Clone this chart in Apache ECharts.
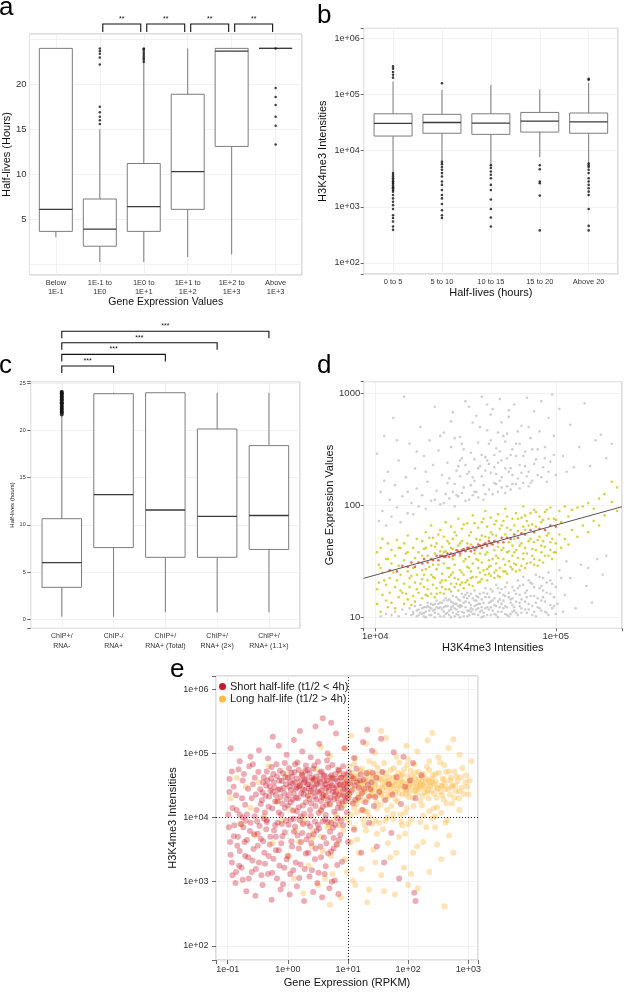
<!DOCTYPE html>
<html><head><meta charset="utf-8">
<script src="https://cdn.jsdelivr.net/npm/echarts@6/dist/echarts.min.js"></script>
<style>html,body{margin:0;padding:0;background:#fff}#c{width:625px;height:992px}</style>
</head><body><div id="c"></div>
<script>
// ---------------- DATA ----------------
// Panel a
const catsA = ['Below\n1E-1','1E-1 to\n1E0','1E0 to\n1E+1','1E+1 to\n1E+2','1E+2 to\n1E+3','Above\n1E+3'];
// [min, Q1, median, Q3, max]
const boxA = [[3.0,3.65,6.1,24,24],[0.25,2.0,3.9,7.25,15.0],[0.25,3.65,6.4,11.2,22.4],[0.8,6.1,10.3,18.9,24],[1.1,13.1,23.7,24,24],[24,24,24,24,24]];
const outA = [[1,15.6],[1,16.0],[1,16.4],[1,16.9],[1,17.5],[1,22.2],[1,23.0],[1,23.4],[1,23.7],[1,24.0],
  [2,22.5],[2,22.7],[2,22.9],[2,23.1],[2,23.3],[2,23.5],[2,23.7],[2,23.9],[2,24.0],
  [5,24.0],[5,19.6],[5,18.6],[5,17.7],[5,16.4],[5,15.4],[5,13.3]];
const sigA = [[1,2],[2,3],[3,4],[4,5]];
const sigALabel = '**';
const ticksA = [5,10,15,20];

// Panel b
const catsB = ['0 to 5','5 to 10','10 to 15','15 to 20','Above 20'];
const boxB = [[4200,18200,30600,45300,170000],[6400,20400,31700,44300,120000],[5200,19500,30900,45300,148000],[7700,21400,33600,47900,123000],[5800,20400,32400,46800,160000]];
// outliers: [category, log10(intensity)]
const outBLog = [[0,5.50],[0,5.46],[0,5.40],[0,5.35],[0,5.30],[0,3.60],[0,3.57],[0,3.54],[0,3.51],[0,3.48],[0,3.45],[0,3.43],[0,3.41],[0,3.38],[0,3.35],[0,3.33],[0,3.30],[0,3.27],[0,3.21],[0,3.15],[0,3.09],[0,3.03],[0,2.96],[0,2.85],[0,2.80],[0,2.74],[0,2.65],[0,2.59],
  [1,5.20],[1,3.80],[1,3.76],[1,3.71],[1,3.66],[1,3.60],[1,3.54],[1,3.45],[1,3.39],[1,3.30],[1,3.21],[1,3.15],[1,3.05],[1,2.94],[1,2.85],[1,2.80],
  [2,3.74],[2,3.69],[2,3.63],[2,3.57],[2,3.51],[2,3.39],[2,3.30],[2,3.13],[2,2.96],[2,2.81],[2,2.65],
  [3,3.74],[3,3.67],[3,3.45],[3,3.42],[3,3.20],[3,2.58],
  [4,5.28],[4,5.26],[4,3.77],[4,3.74],[4,3.71],[4,3.66],[4,3.60],[4,3.51],[4,3.45],[4,3.39],[4,3.33],[4,3.27],[4,3.21],[4,2.96],[4,2.66],[4,2.58]];

// Panel c
const catsC = ['ChIP+/\nRNA-','ChIP-/\nRNA+','ChIP+/\nRNA+ (Total)','ChIP+/\nRNA+ (2×)','ChIP+/\nRNA+ (1.1×)'];
const boxC = [[0.28,3.39,6.0,10.66,21.6],[0.28,7.6,13.2,23.9,24],[0.74,6.57,11.58,24,24],[0.74,6.57,10.9,20.16,24],[0.74,7.4,11.0,18.4,24]];
const outC = [[0,21.7],[0,21.9],[0,22.0],[0,22.2],[0,22.3],[0,22.5],[0,22.6],[0,22.8],[0,22.9],[0,23.0],[0,23.2],[0,23.3],[0,23.5],[0,23.6],[0,23.8],[0,23.9],[0,24.0],[0,24.1]];
const sigC = [[0,1],[0,2],[0,3],[0,4]];
const sigCLabel = '***';

// Panel d  (log10 x = H3K4me3, log10 y = expression)
const dLine = [[8630,22.3],[232800,97.2]];
const dRedLog = [[4.08,1.42],[4.12,1.41],[4.15,1.46],[4.18,1.45],[4.20,1.49],[4.22,1.45],[4.24,1.49],[4.26,1.48],[4.27,1.52],[4.29,1.49],[4.31,1.52],[4.32,1.51],[4.34,1.55],[4.35,1.51],[4.36,1.55],[4.37,1.55],[4.38,1.54],[4.39,1.54],[4.40,1.57],[4.41,1.54],[4.42,1.57],[4.43,1.55],[4.44,1.56],[4.45,1.60],[4.46,1.59],[4.47,1.57],[4.48,1.60],[4.49,1.61],[4.50,1.59],[4.51,1.62],[4.52,1.62],[4.53,1.59],[4.54,1.63],[4.55,1.60],[4.56,1.62],[4.57,1.65],[4.58,1.64],[4.59,1.62],[4.60,1.65],[4.61,1.66],[4.62,1.64],[4.63,1.68],[4.64,1.66],[4.65,1.65],[4.66,1.68],[4.68,1.67],[4.70,1.71],[4.71,1.67],[4.73,1.71],[4.75,1.70],[4.77,1.74],[4.79,1.71],[4.81,1.75],[4.83,1.74],[4.86,1.78],[4.88,1.76],[4.91,1.79],[4.94,1.78],[4.97,1.82],[5.00,1.81]];
const dYellowLog = [[4.01,1.12],[4.01,1.25],[4.01,1.58],[4.02,1.31],[4.02,1.47],[4.03,1.05],[4.03,1.62],[4.04,1.20],[4.04,1.40],[4.04,1.70],[4.06,1.15],[4.06,1.29],[4.06,1.52],[4.07,1.09],[4.07,1.66],[4.08,1.35],[4.08,1.22],[4.09,1.48],[4.09,1.60],[4.09,1.13],
 [4.11,1.27],[4.11,1.55],[4.11,1.08],[4.12,1.33],[4.12,1.69],[4.13,1.18],[4.13,1.46],[4.14,1.24],[4.14,1.62],[4.14,1.38],[4.16,1.12],[4.16,1.51],[4.16,1.30],[4.17,1.57],[4.17,1.21],[4.18,1.41],[4.18,1.73],[4.18,1.16],[4.19,1.27],[4.19,1.35],
 [4.21,1.19],[4.21,1.62],[4.21,1.44],[4.22,1.31],[4.22,1.53],[4.22,1.14],[4.23,1.25],[4.23,1.70],[4.23,1.38],[4.24,1.58],[4.24,1.22],[4.26,1.34],[4.26,1.68],[4.26,1.17],[4.26,1.42],[4.27,1.27],[4.27,1.61],[4.28,1.43],[4.28,1.20],[4.28,1.76],[4.29,1.33],[4.29,1.55],[4.29,1.25],
 [4.31,1.38],[4.31,1.64],[4.31,1.21],[4.31,1.82],[4.32,1.29],[4.32,1.47],[4.32,1.71],[4.33,1.18],[4.33,1.57],[4.33,1.35],[4.34,1.26],[4.34,1.43],[4.34,1.66],[4.36,1.31],[4.36,1.59],[4.36,1.78],[4.36,1.22],[4.37,1.39],[4.37,1.63],[4.37,1.27],[4.38,1.21],[4.38,1.48],[4.38,1.72],[4.39,1.33],[4.39,1.59],[4.39,1.85],
 [4.41,1.25],[4.41,1.44],[4.41,1.66],[4.41,1.36],[4.42,1.30],[4.42,1.62],[4.42,1.81],[4.42,1.23],[4.43,1.40],[4.43,1.52],[4.43,1.70],[4.44,1.27],[4.44,1.35],[4.44,1.76],[4.46,1.34],[4.46,1.64],[4.46,1.88],[4.46,1.24],[4.47,1.42],[4.47,1.55],[4.47,1.29],[4.48,1.31],[4.48,1.68],[4.48,1.79],[4.49,1.38],[4.49,1.50],[4.49,1.26],
 [4.51,1.33],[4.51,1.66],[4.51,1.84],[4.51,1.45],[4.52,1.29],[4.52,1.54],[4.52,1.73],[4.53,1.41],[4.53,1.65],[4.53,1.35],[4.54,1.48],[4.54,1.91],[4.54,1.28],[4.56,1.36],[4.56,1.70],[4.56,1.52],[4.57,1.31],[4.57,1.80],[4.57,1.44],[4.58,1.40],[4.58,1.69],[4.58,1.57],[4.59,1.34],[4.59,1.85],[4.59,1.49],
 [4.61,1.38],[4.61,1.72],[4.61,1.56],[4.61,1.95],[4.62,1.43],[4.62,1.81],[4.62,1.33],[4.63,1.51],[4.63,1.71],[4.63,1.39],[4.64,1.46],[4.64,1.76],[4.64,1.89],[4.66,1.40],[4.66,1.60],[4.66,1.83],[4.66,1.35],[4.67,1.48],[4.67,1.73],[4.67,1.55],[4.68,1.37],[4.68,1.92],[4.68,1.63],[4.69,1.44],[4.69,1.79],
 [4.71,1.41],[4.71,1.62],[4.71,1.86],[4.71,1.52],[4.72,1.47],[4.72,1.74],[4.72,1.97],[4.73,1.39],[4.73,1.58],[4.73,1.80],[4.74,1.50],[4.74,1.67],[4.76,1.43],[4.76,1.64],[4.76,1.88],[4.76,1.55],[4.77,1.48],[4.77,1.82],[4.77,1.70],[4.78,1.41],[4.78,1.60],[4.78,1.93],[4.79,1.53],[4.79,1.77],
 [4.81,1.46],[4.81,1.66],[4.81,1.89],[4.82,1.52],[4.82,1.81],[4.82,1.99],[4.83,1.44],[4.83,1.62],[4.83,1.78],[4.84,1.57],[4.84,1.86],[4.86,1.49],[4.86,1.70],[4.86,1.93],[4.87,1.55],[4.87,1.83],[4.88,1.47],[4.88,1.67],[4.88,1.96],[4.89,1.60],[4.89,1.81],
 [4.91,1.51],[4.91,1.72],[4.91,1.90],[4.92,1.58],[4.92,1.85],[4.93,1.49],[4.93,1.68],[4.94,1.63],[4.94,1.94],[4.96,1.55],[4.96,1.75],[4.96,1.88],[4.97,1.60],[4.97,1.98],[4.98,1.52],[4.98,1.70],
 [5.00,1.66],[5.00,1.87],[5.00,1.58],[5.02,1.74],[5.02,1.95],[5.03,1.62],[5.03,1.85],[5.05,1.70],[5.05,1.99],[5.07,1.65],[5.07,1.90],[5.09,1.78],[5.09,1.96],[5.12,1.72],[5.12,1.98],[5.15,1.82],[5.15,1.99],[5.18,1.76],[5.18,2.02],[5.21,1.86],[5.21,1.97],[5.24,1.82],[5.24,2.06],[5.27,2.10],[5.27,1.91],[5.31,2.03],[5.31,2.21],[5.34,1.95],[5.34,2.16]];
const dYellowLog2 = [[4.25,1.30],[4.26,1.55],[4.27,1.38],[4.28,1.62],[4.29,1.19],[4.30,1.45],[4.30,1.71],[4.32,1.36],[4.33,1.63],[4.34,1.21],[4.35,1.47],[4.35,1.74],[4.37,1.33],[4.38,1.58],[4.39,1.25],[4.40,1.44],[4.40,1.68],[4.42,1.38],[4.43,1.61],[4.44,1.47],[4.45,1.30],[4.45,1.73],[4.47,1.66],[4.48,1.40],[4.49,1.83],[4.50,1.31],[4.50,1.52],[4.52,1.44],[4.53,1.76],[4.54,1.36],[4.55,1.57],[4.55,1.84],[4.57,1.51],[4.58,1.32],[4.59,1.73],[4.60,1.42],[4.60,1.88],[4.62,1.58],[4.63,1.45],[4.64,1.37],[4.65,1.74],[4.65,1.52],[4.67,1.42],[4.67,1.86],[4.68,1.53],[4.69,1.36],[4.70,1.60],[4.70,1.82],[4.72,1.41],[4.73,1.90],[4.74,1.59],[4.75,1.45],[4.75,1.78],[4.77,1.58],[4.78,1.47],[4.79,1.88],[4.80,1.42],[4.80,1.64],[4.82,1.57],[4.83,1.91],[4.84,1.48],[4.85,1.68],[4.85,1.82],[4.87,1.61],[4.88,1.52],[4.89,1.94],[4.90,1.46],[4.90,1.69],[4.92,1.64],[4.93,1.87],[4.94,1.55],[4.95,1.73],[4.95,1.96],[4.97,1.67],[4.99,1.88],[4.99,1.58],[4.20,1.37],[4.18,1.58],[4.15,1.22],[4.13,1.62],[4.10,1.40],[4.07,1.52],[4.05,1.33],[4.03,1.44],[4.16,1.66],[4.20,1.11]];
const dGrayLog = [[4.01,2.46],[4.02,1.86],[4.03,2.12],[4.04,1.95],[4.05,2.62],[4.06,1.82],[4.07,2.30],[4.08,2.05],[4.09,1.90],[4.10,2.78],[4.11,2.18],[4.12,1.98],[4.13,2.40],[4.14,1.85],[4.15,2.08],[4.16,2.97],[4.17,2.25],[4.18,1.93],[4.19,2.55],[4.20,2.02],[4.21,1.92],[4.22,2.33],[4.23,2.15],[4.24,1.99],[4.25,2.70],[4.26,2.09],[4.27,2.44],[4.28,1.97],[4.29,2.21],[4.30,2.58],[4.31,2.04],[4.32,2.36],[4.33,2.88],[4.34,2.13],[4.35,2.49],[4.36,2.01],[4.37,2.27],[4.38,2.65],[4.39,2.10],[4.40,2.38],[4.41,2.06],[4.42,2.52],[4.43,2.83],[4.44,2.19],[4.45,2.31],[4.46,2.08],[4.47,2.61],[4.48,2.42],[4.49,2.16],[4.50,2.93],[4.51,2.28],[4.52,2.05],[4.53,2.47],[4.54,2.74],[4.55,2.22],[4.56,2.12],[4.57,2.56],[4.58,2.35],[4.59,2.97],[4.60,2.18],[4.61,2.43],[4.62,2.67],[4.63,2.14],[4.64,2.29],[4.65,2.86],[4.66,2.20],[4.67,2.51],[4.68,2.38],[4.69,2.95],[4.70,2.25],[4.71,2.62],[4.72,2.33],[4.73,2.17],[4.74,2.79],[4.75,2.45],[4.76,2.27],[4.77,2.90],[4.78,2.55],[4.79,2.24],[4.80,2.36],[4.81,2.71],[4.82,2.20],[4.83,2.48],[4.84,2.96],[4.85,2.30],[4.86,2.60],[4.87,2.22],[4.88,2.84],[4.89,2.41],[4.90,2.27],[4.91,2.66],[4.92,2.93],[4.93,2.34],[4.94,2.52],[4.95,2.21],[4.96,2.78],[4.97,2.39],[4.98,2.99],[4.99,2.62],[5.00,2.27],[5.02,2.86],[5.04,2.44],[5.06,2.30],[5.08,2.72],[5.10,2.34],[5.13,2.52],[5.16,2.91],[5.19,2.35],[5.22,2.58],[5.25,2.63],[5.28,2.42],[5.31,2.55],
 [4.38,2.02],[4.41,2.24],[4.44,1.99],[4.46,2.35],[4.48,2.11],[4.50,2.04],[4.52,2.30],[4.54,2.09],[4.55,2.41],[4.57,2.07],[4.59,2.26],[4.60,2.05],[4.62,2.40],[4.63,2.55],[4.65,2.10],[4.66,2.34],[4.68,2.12],[4.69,2.48],[4.70,2.16],[4.72,2.57],[4.73,2.42],[4.75,2.14],[4.76,2.50],[4.78,2.19],[4.79,2.66],[4.80,2.15],[4.82,2.44],[4.84,2.26],[4.85,2.17],[4.87,2.50],[4.58,2.70],[4.64,2.81],[4.70,2.74],[4.74,2.30],[4.61,2.31],[4.67,2.19],[4.53,2.18],[4.47,2.26],[4.43,2.12],[4.49,2.50],
 [5.02,1.42],[5.05,1.20],[5.08,1.35],[5.11,1.08],[5.14,1.47],[5.17,1.28],[5.20,1.13],[5.23,1.52],[5.26,1.38],[5.28,1.55],[5.18,1.44],[5.06,1.50],
 [4.03,1.01],[4.06,1.03],[4.09,1.02],[4.11,1.05],[4.13,1.01],[4.15,1.07],[4.17,1.03],[4.19,1.08],[4.20,1.02],
 [4.21,1.05],[4.22,1.10],[4.23,1.01],[4.24,1.07],[4.25,1.11],[4.26,1.03],[4.27,1.09],[4.28,1.00],[4.29,1.13],[4.30,1.06],[4.31,1.02],[4.32,1.11],[4.33,1.04],[4.34,1.15],[4.35,1.08],[4.36,1.01],[4.37,1.13],[4.38,1.05],[4.39,1.17],[4.40,1.10],[4.41,1.02],
 [4.42,1.07],[4.43,1.19],[4.44,1.12],[4.45,1.03],[4.46,1.16],[4.47,1.09],[4.48,1.21],[4.49,1.01],[4.50,1.14],[4.51,1.06],[4.52,1.19],[4.53,1.11],[4.54,1.03],[4.55,1.24],[4.56,1.15],[4.57,1.08],[4.58,1.21],[4.59,1.00],[4.60,1.13],[4.61,1.26],[4.42,1.14],[4.44,1.01],[4.46,1.05],[4.48,1.10],[4.50,1.20],[4.52,1.02],[4.54,1.17],[4.56,1.07],[4.58,1.12],[4.60,1.04],
 [4.62,1.09],[4.63,1.18],[4.64,1.02],[4.65,1.23],[4.66,1.11],[4.67,1.29],[4.68,1.05],[4.69,1.16],[4.70,1.25],[4.71,1.08],[4.72,1.19],[4.73,1.31],[4.74,1.01],[4.75,1.13],[4.76,1.27],[4.77,1.06],[4.78,1.21],[4.79,1.33],[4.80,1.10],[4.62,1.21],[4.64,1.14],[4.66,1.03],[4.68,1.26],[4.70,1.12],[4.72,1.03],[4.74,1.22],[4.76,1.17],[4.78,1.04],[4.80,1.28],
 [4.81,1.16],[4.82,1.36],[4.83,1.07],[4.84,1.24],[4.85,1.12],[4.86,1.31],[4.87,1.02],[4.88,1.19],[4.89,1.38],[4.90,1.09],[4.91,1.26],[4.92,1.15],[4.93,1.35],[4.94,1.05],[4.95,1.22],[4.96,1.40],[4.97,1.11],[4.98,1.30],[4.99,1.18],[5.00,1.03],
 [4.36,1.09],[4.38,1.15],[4.40,1.04],[4.43,1.10],[4.45,1.18],[4.47,1.00],[4.49,1.13],[4.51,1.22],[4.53,1.05],[4.55,1.10],[4.57,1.18],[4.59,1.09],[4.33,1.12],[4.31,1.08],[4.27,1.04]];
const dGrayLog2 = [[4.21,1.03],[4.23,1.06],[4.24,1.02],[4.26,1.08],[4.27,1.01],[4.28,1.05],[4.29,1.10],[4.30,1.02],[4.31,1.12],[4.32,1.06],[4.33,1.00],[4.34,1.09],[4.35,1.03],[4.36,1.13],[4.37,1.07],[4.38,1.01],[4.39,1.10],[4.40,1.15],[4.41,1.06],[4.42,1.00],[4.43,1.13],[4.44,1.08],[4.45,1.12],[4.46,1.02],[4.47,1.15],[4.48,1.05],[4.49,1.18],[4.50,1.09],[4.51,1.01],[4.52,1.13],[4.53,1.21],[4.54,1.07],[4.55,1.03],[4.56,1.19],[4.57,1.12],[4.58,1.05],[4.59,1.16],[4.60,1.22],[4.61,1.08],[4.62,1.02],[4.63,1.13],[4.64,1.25],[4.65,1.06],[4.66,1.17],[4.67,1.10],[4.68,1.00],[4.69,1.22],[4.70,1.05],[4.71,1.15],[4.72,1.27],[4.73,1.09],[4.74,1.18],[4.75,1.03],[4.76,1.11],[4.77,1.24],[4.78,1.14],[4.79,1.02],[4.80,1.20],[4.81,1.08],[4.82,1.29],[4.83,1.14],[4.84,1.04],[4.85,1.33],[4.86,1.19],[4.87,1.10],[4.88,1.27],[4.89,1.01],[4.90,1.17],[4.91,1.36],[4.92,1.06],[4.93,1.24],[4.94,1.14],[4.95,1.31],[4.96,1.02],[4.97,1.21],[4.98,1.08],[5.00,1.27],[5.01,1.12],[5.03,1.35],[5.04,1.05],
 [4.25,1.04],[4.30,1.09],[4.35,1.12],[4.38,1.09],[4.41,1.16],[4.43,1.04],[4.45,1.07],[4.47,1.11],[4.49,1.04],[4.51,1.17],[4.53,1.08],[4.55,1.15],[4.57,1.02],[4.59,1.06],[4.61,1.18],[4.63,1.07],[4.65,1.15],[4.67,1.02],[4.69,1.09],[4.71,1.20],[4.73,1.02],[4.75,1.16],[4.77,1.09],[4.79,1.26],[4.81,1.04],[4.83,1.22],[4.85,1.07],[4.87,1.30],[4.89,1.13],[4.91,1.08],[4.93,1.18],[4.95,1.04],[4.97,1.33],[4.99,1.10],[4.52,1.06],[4.56,1.11],[4.60,1.01],[4.64,1.09],[4.68,1.14],[4.72,1.10],[4.76,1.05],[4.80,1.13],[4.84,1.18],[4.88,1.05],[4.92,1.28],[4.46,1.10],[4.42,1.09],[4.39,1.03],[4.33,1.07],[4.28,1.09],
 [4.05,2.22],[4.12,2.58],[4.18,2.12],[4.23,2.48],[4.28,2.30],[4.33,2.05],[4.36,2.62],[4.40,2.20],[4.42,2.75],[4.45,2.09],[4.48,2.55],[4.50,2.36],[4.52,2.88],[4.55,2.12],[4.57,2.33],[4.59,2.45],[4.61,2.10],[4.63,2.37],[4.64,2.58],[4.66,2.45],[4.67,2.28],[4.69,2.22],[4.70,2.40],[4.72,2.11],[4.73,2.64],[4.75,2.33],[4.76,2.19],[4.78,2.44],[4.80,2.55],[4.81,2.29],[4.83,2.35],[4.85,2.70],[4.86,2.20],[4.88,2.37],[4.90,2.50],[4.92,2.25],[4.94,2.42],[4.96,2.30],[4.99,2.45],[4.62,2.90],[4.56,2.80],[4.68,2.65],[4.74,2.85],[4.54,2.25],[4.47,2.40],[4.44,2.60]];

// Panel e  (log10 x = RPKM, log10 y = H3K4me3)
const eShortLog = [[-0.45,4.21],[-0.41,4.55],[-0.38,4.08],[-0.35,4.72],[-0.31,4.33],[-0.28,4.61],[-0.26,4.14],[-0.22,4.47],[-0.19,4.83],[-0.17,4.26],[-0.14,4.58],[-0.11,4.05],[-0.08,4.69],[-0.06,4.38],[-0.03,4.52],[0.00,4.19],[0.02,4.77],[0.05,4.43],[0.07,4.64],[0.09,4.11],[0.12,4.55],[0.14,4.31],[0.16,4.86],[0.19,4.49],[0.21,4.02],[0.23,4.67],[0.26,4.36],[0.28,4.59],[0.30,4.24],[0.33,4.74],[0.35,4.45],[0.37,4.12],[0.40,4.62],[0.42,4.39],[0.44,4.81],[0.47,4.28],[0.49,4.53],[0.51,4.07],[0.54,4.70],[0.56,4.42],[0.58,4.17],[0.61,4.57],[0.63,4.34],[0.65,4.89],[0.68,4.48],[0.70,4.21],[0.72,4.66],[0.75,4.40],[0.77,4.09],[0.79,4.60],[0.82,4.30],[0.84,4.75],[0.86,4.51],[0.89,4.15],[0.91,4.44],[0.93,4.68],[0.96,4.26],[0.98,4.57],
 [-0.42,4.39],[-0.36,4.50],[-0.29,4.42],[-0.24,4.68],[-0.20,4.35],[-0.13,4.44],[-0.09,4.22],[-0.04,4.63],[0.01,4.35],[0.04,4.56],[0.08,4.28],[0.11,4.71],[0.15,4.47],[0.18,4.16],[0.22,4.58],[0.25,4.44],[0.29,4.73],[0.32,4.52],[0.36,4.29],[0.39,4.49],[0.43,4.60],[0.46,4.18],[0.50,4.41],[0.53,4.56],[0.57,4.32],[0.60,4.65],[0.64,4.46],[0.67,4.27],[0.71,4.54],[0.74,4.61],[0.78,4.36],[0.81,4.49],[0.85,4.22],[0.88,4.62],[0.92,4.35],[0.95,4.53],[0.99,4.41],
 [-0.60,4.30],[-0.55,4.62],[-0.52,4.12],[-0.66,4.45],[-0.71,4.20],[-0.75,4.58],[-0.80,4.05],[-0.86,4.35],[-0.92,4.15],[-0.58,4.83],[-0.97,4.40],[-0.93,4.72],
 [1.02,4.37],[1.05,4.64],[1.08,4.22],[1.11,4.50],[1.14,4.76],[1.17,4.31],[1.20,4.58],[1.24,4.12],[1.27,4.45],[1.31,4.69],[1.35,4.33],[1.39,4.55],[1.43,4.18],[1.47,4.62],[1.52,4.40],[1.57,4.71],[1.62,4.27],[1.68,4.52],[1.74,4.36],[1.81,4.63],[1.88,4.21],[1.95,4.48],[2.03,4.58],[2.12,4.30],[2.22,4.66],[2.08,4.85],[1.92,4.95],[1.76,5.02],
 [-0.62,4.95],[-0.48,5.05],[-0.33,4.92],[-0.15,5.12],[-0.02,4.98],[0.10,5.21],[0.24,5.03],[0.38,4.94],[0.52,5.15],[0.66,5.00],[0.80,5.31],[0.94,5.08],[1.10,4.93],[1.25,5.18],[1.40,5.04],[0.46,5.42],[0.20,5.35],[-0.25,5.26],[0.72,5.48],[1.55,5.23],[-0.80,4.88],[-0.95,5.08],[1.32,5.37],[0.58,5.55],
 [-0.98,3.85],[-0.95,3.42],[-0.92,3.10],[-0.90,3.71],[-0.87,2.98],[-0.84,3.56],[-0.81,3.25],[-0.78,3.90],[-0.75,3.03],[-0.72,3.62],[-0.69,2.85],[-0.66,3.38],[-0.63,3.79],[-0.60,3.15],[-0.57,3.51],[-0.54,2.78],[-0.51,3.94],[-0.48,3.30],[-0.45,3.67],[-0.42,2.95],[-0.39,3.45],[-0.36,3.82],[-0.33,3.12],[-0.30,3.58],[-0.27,2.72],[-0.24,3.36],[-0.21,3.88],[-0.18,3.05],[-0.15,3.49],[-0.12,2.88],[-0.09,3.71],[-0.06,3.22],[-0.03,3.95],[0.00,3.40],[0.03,2.80],[0.06,3.63],[0.09,3.18],[0.12,3.86],[0.15,2.93],[0.18,3.52],[0.21,3.27],[0.24,3.76],[0.27,2.70],[0.30,3.44],[0.33,3.91],[0.36,3.08],[0.39,3.60],[0.42,2.84],[0.45,3.35],[0.48,3.80],[0.51,3.14],[0.54,3.55],[0.57,2.76],[0.60,3.69],[0.63,3.24],[0.66,3.93],[0.69,2.90],[0.72,3.47],[0.75,3.84],[0.78,3.02],[0.81,3.58],[0.84,2.81],[0.87,3.73],[0.90,3.31],
 [-0.70,3.95],[-0.50,3.75],[-0.40,3.98],[-0.20,3.70],[-0.10,3.90],[0.10,3.78],[0.20,3.96],[0.35,3.72],[0.50,3.89],[0.62,3.97],[0.76,3.68],[0.92,3.88],[1.00,3.62],[1.10,3.81],[1.22,3.45],[1.35,3.92],[1.48,3.55],[1.60,3.30],[1.72,3.76],[1.85,3.05],[2.10,2.83],[2.12,2.70]];
const eShortLog2 = [[-0.58,4.52],[-0.53,4.36],[-0.49,4.71],[-0.46,4.44],[-0.43,4.27],[-0.40,4.63],[-0.37,4.34],[-0.34,4.58],[-0.32,4.17],[-0.30,4.49],[-0.27,4.79],[-0.25,4.40],[-0.23,4.55],[-0.21,4.25],[-0.18,4.64],[-0.16,4.43],[-0.13,4.73],[-0.12,4.32],[-0.10,4.57],[-0.07,4.46],[-0.05,4.85],[-0.02,4.29],[0.00,4.62],[0.03,4.48],[0.05,4.24],[0.06,4.70],[0.08,4.53],[0.10,4.37],[0.12,4.83],[0.13,4.45],[0.15,4.61],[0.17,4.30],[0.18,4.74],[0.20,4.50],[0.22,4.38],[0.24,4.66],[0.25,4.19],[0.27,4.55],[0.28,4.43],[0.30,4.81],[0.31,4.61],[0.33,4.34],[0.34,4.52],[0.36,4.69],[0.38,4.41],[0.39,4.22],[0.41,4.58],[0.42,4.76],[0.44,4.47],[0.45,4.33],[0.47,4.64],[0.48,4.51],[0.50,4.87],[0.52,4.39],[0.53,4.60],[0.55,4.26],[0.56,4.72],[0.58,4.49],[0.59,4.35],[0.61,4.66],[0.62,4.52],[0.64,4.20],[0.65,4.58],[0.67,4.78],[0.68,4.42],[0.70,4.63],[0.71,4.31],[0.73,4.50],[0.74,4.82],[0.76,4.46],[0.77,4.28],[0.79,4.68],[0.80,4.40],[0.82,4.57],[0.83,4.15],[0.85,4.73],[0.86,4.36],[0.88,4.52],[0.89,4.62],[0.91,4.25],[0.92,4.80],[0.94,4.45],[0.95,4.33],[0.97,4.66],[0.98,4.49],[1.00,4.30],[1.01,4.71],[1.03,4.54],[1.06,4.42],[1.09,4.61],[1.12,4.28],[1.15,4.55],[1.18,4.46],[1.21,4.67],[1.23,4.38],[1.26,4.59],[1.29,4.24],[1.33,4.51],[1.37,4.44],[1.41,4.70],[1.45,4.32],
 [-0.96,3.62],[-0.93,3.30],[-0.89,3.88],[-0.86,3.15],[-0.83,3.70],[-0.80,3.48],[-0.77,3.22],[-0.74,3.85],[-0.71,3.40],[-0.68,3.65],[-0.65,3.05],[-0.62,3.92],[-0.59,3.33],[-0.56,3.74],[-0.53,3.20],[-0.50,3.56],[-0.47,3.87],[-0.44,3.10],[-0.41,3.63],[-0.38,3.28],[-0.35,3.96],[-0.32,3.40],[-0.29,3.70],[-0.26,3.14],[-0.23,3.80],[-0.20,3.49],[-0.17,3.92],[-0.14,3.25],[-0.11,3.60],[-0.08,2.96],[-0.05,3.77],[-0.02,3.35],[0.01,3.89],[0.04,3.12],[0.07,3.55],[0.10,3.98],[0.13,3.30],[0.16,3.72],[0.19,3.06],[0.22,3.62],[0.25,3.90],[0.28,3.20],[0.31,3.66],[0.34,3.45],[0.37,3.86],[0.40,3.18],[0.43,3.74],[0.46,3.52],[0.49,2.98],[0.52,3.83],[0.55,3.38],[0.58,3.94],[0.61,3.12],[0.64,3.60],[0.67,3.44],[0.70,3.78],[0.73,3.00],[0.76,3.52],[0.79,3.89],[0.82,3.26],[0.85,3.65],[0.88,3.95],[-0.99,4.05],[-0.97,4.60],[-0.90,4.48],[-0.85,4.12],[-0.82,4.75],[-0.76,4.30],[-0.73,4.68],[-0.68,4.05],[-0.64,4.80],
 [-0.55,4.02],[-0.35,3.93],[-0.15,4.08],[0.05,3.97],[0.27,4.06],[0.45,3.94],[0.63,4.04],[0.83,3.99],[0.98,4.08],[-0.75,4.00],[0.15,4.10],[0.55,4.12],[0.72,3.92],[-0.05,4.15],[0.38,4.03]];
const eLongLog = [[0.82,4.45],[0.86,4.68],[0.90,4.22],[0.94,4.57],[0.98,4.31],[1.02,4.80],[1.06,4.50],[1.10,4.15],[1.13,4.62],[1.17,4.38],[1.21,4.73],[1.24,4.26],[1.28,4.55],[1.32,4.09],[1.35,4.66],[1.39,4.43],[1.43,4.84],[1.46,4.34],[1.50,4.59],[1.54,4.20],[1.57,4.71],[1.61,4.48],[1.65,4.12],[1.68,4.63],[1.72,4.39],[1.76,4.77],[1.79,4.29],[1.83,4.55],[1.87,4.05],[1.90,4.67],[1.94,4.44],[1.98,4.82],[2.01,4.32],[2.05,4.58],[2.09,4.18],[2.12,4.70],[2.16,4.47],[2.20,4.26],[2.23,4.63],[2.27,4.40],[2.31,4.79],[2.34,4.30],[2.38,4.56],[2.42,4.14],[2.45,4.68],[2.49,4.45],[2.53,4.86],[2.56,4.35],[2.60,4.59],[2.64,4.22],[2.68,4.72],[2.72,4.48],[2.76,4.31],[2.80,4.64],[2.85,4.41],[2.90,4.77],[2.95,4.55],[3.00,4.36],
 [0.84,4.34],[0.92,4.51],[1.00,4.40],[1.08,4.64],[1.15,4.27],[1.22,4.48],[1.30,4.70],[1.37,4.35],[1.44,4.52],[1.52,4.42],[1.59,4.62],[1.66,4.34],[1.74,4.54],[1.81,4.45],[1.88,4.66],[1.96,4.37],[2.03,4.52],[2.10,4.42],[2.18,4.61],[2.25,4.50],[2.33,4.43],[2.40,4.60],[2.47,4.31],[2.55,4.50],[2.62,4.44],[2.70,4.58],[2.78,4.50],
 [1.04,4.58],[1.19,4.55],[1.33,4.47],[1.48,4.68],[1.62,4.56],[1.77,4.50],[1.91,4.55],[2.06,4.65],[2.21,4.53],[2.36,4.49],[1.26,4.40],[1.41,4.60],[1.55,4.35],[1.70,4.47],[1.85,4.38],[2.00,4.47],[2.14,4.55],[2.29,4.55],[2.44,4.52],
 [0.70,4.96],[0.95,5.08],[1.12,4.92],[1.30,5.15],[1.45,5.01],[1.63,5.24],[1.80,4.95],[1.97,5.12],[2.15,5.03],[2.32,5.20],[2.50,4.94],[2.67,5.08],[2.85,4.98],[1.05,5.28],[1.55,5.35],[2.40,5.32],[2.00,4.91],[2.75,5.22],[0.55,5.10],[3.05,4.88],
 [-0.95,4.30],[-0.85,4.62],[-0.78,3.90],[-0.70,4.48],[-0.62,4.15],[-0.55,3.72],[-0.48,4.55],[-0.40,4.02],[-0.32,4.80],[-0.25,3.60],[-0.18,4.25],[-0.10,3.95],[-0.02,4.68],[0.06,4.12],[0.13,3.80],[0.20,4.52],[0.27,4.00],[0.34,4.35],[0.41,3.68],[0.48,4.75],[0.55,4.10],[0.62,4.40],[0.68,3.88],[0.74,4.62],[0.80,4.05],[0.45,4.58],[0.60,4.30],[0.25,4.70],[0.70,4.20],
 [0.02,3.40],[0.10,3.05],[0.18,3.62],[0.26,2.82],[0.34,3.25],[0.42,3.78],[0.50,2.95],[0.58,3.48],[0.66,3.85],[0.74,3.12],[0.82,3.58],[0.88,2.75],[0.95,3.35],[1.02,3.92],[1.08,3.02],[1.15,3.66],[1.22,3.20],[1.28,3.88],[1.35,2.88],[1.42,3.50],[1.48,3.75],[1.55,3.10],[1.62,3.95],[1.70,3.38],[1.78,2.80],[1.85,3.70],[1.93,3.22],[2.00,3.90],[2.08,3.45],[2.16,2.90],[2.25,3.62],[2.35,3.15],[2.45,3.85],[2.55,3.35],[2.68,3.72],[0.76,3.96],[0.92,3.80],[1.10,3.84],[1.25,3.97],[1.40,3.90],[1.58,3.82],[1.75,3.98],[1.90,3.88],[2.20,3.93],[2.40,3.99],[1.32,2.68],[0.70,2.64],[2.60,2.62],
 [1.05,4.05],[1.35,4.02],[1.65,4.00],[1.95,4.08],[2.25,4.03],[2.55,4.07],[2.85,4.12]];
const eLongLog2 = [[1.00,4.52],[1.03,4.35],[1.07,4.70],[1.09,4.44],[1.12,4.58],[1.14,4.21],[1.16,4.66],[1.18,4.48],[1.20,4.33],[1.23,4.76],[1.25,4.53],[1.27,4.41],[1.29,4.62],[1.31,4.28],[1.34,4.57],[1.36,4.72],[1.38,4.46],[1.40,4.35],[1.42,4.66],[1.45,4.51],[1.47,4.24],[1.49,4.78],[1.51,4.46],[1.53,4.61],[1.56,4.37],[1.58,4.54],[1.60,4.29],[1.63,4.69],[1.64,4.42],[1.67,4.57],[1.69,4.33],[1.71,4.74],[1.73,4.49],[1.75,4.62],[1.78,4.40],[1.80,4.57],[1.82,4.25],[1.84,4.70],[1.86,4.47],[1.89,4.59],[1.91,4.36],[1.93,4.75],[1.95,4.52],[1.97,4.43],[1.99,4.64],[2.02,4.40],[2.04,4.73],[2.07,4.49],[2.08,4.31],[2.11,4.61],[2.13,4.52],[2.15,4.38],[2.17,4.71],[2.19,4.45],[2.22,4.56],[2.24,4.34],[2.26,4.68],[2.28,4.47],[2.30,4.60],[2.32,4.39],[2.35,4.74],[2.37,4.51],[2.39,4.42],[2.41,4.66],[2.43,4.37],[2.46,4.56],[2.48,4.46],[2.51,4.70],[2.54,4.40],[2.57,4.61],[2.59,4.28],[2.61,4.53],[2.63,4.71],[2.66,4.45],[2.69,4.36],[2.71,4.62],[2.74,4.50],[2.77,4.72],[2.79,4.41],[2.82,4.57],[2.84,4.30],[2.87,4.63],[2.89,4.47],[2.92,4.37],[2.96,4.66],[2.98,4.48],[3.02,4.58],[1.10,4.83],[1.35,4.88],[1.60,4.85],[1.85,4.86],[2.10,4.83],[2.35,4.88],[2.60,4.82],[1.22,4.12],[1.48,4.14],[1.72,4.18],[1.98,4.15],[2.23,4.19],[2.48,4.16],[2.73,4.22],[0.96,4.62],[0.88,4.40],[0.93,4.19],[1.05,4.25],[1.44,4.42],[1.66,4.53],[1.88,4.50],[2.12,4.43],[2.34,4.58],[2.56,4.49],[1.57,4.47],[1.79,4.64],[2.01,4.56],[2.20,4.49],
 [0.55,3.70],[0.72,3.40],[0.85,3.88],[0.98,3.15],[1.05,3.62],[1.18,3.45],[1.30,3.80],[1.45,3.30],[1.52,3.92],[1.66,3.60],[1.80,3.45],[1.95,3.75],[2.05,3.12],[2.15,3.55],[2.30,3.85],[2.48,3.58],[2.62,3.92],[2.75,3.45],[1.12,2.95],[1.60,2.85],[2.00,2.95],[0.40,3.55],[0.25,3.92],[0.62,3.05],
 [0.95,3.98],[1.15,4.08],[1.45,3.95],[1.75,4.06],[2.05,3.97],[2.35,4.10],[2.65,3.96],[1.28,4.10],[1.88,3.94],[2.45,4.02]];
const eRefX = 10, eRefY = 10000;
const eNames = ['Short half-life (t1/2 < 4h)','Long half-life (t1/2 > 4h)'];

// ---------------- CHART ----------------
const FONT = 'Liberation Sans, Arial, Helvetica, sans-serif';
const GRIDC = '#ededed';
const p10 = a => a.map(p => [Math.pow(10,p[0]), Math.pow(10,p[1])]);
const p10y = a => a.map(p => [p[0], Math.pow(10,p[1])]);
const catFmt = cats => v => { const r = Math.round(v); return (Math.abs(v-r) < 1e-6 && cats[r] !== undefined) ? cats[r] : ''; };
const pad2 = n => (n < 10 ? '0' : '') + n;
const sciFmt = v => { const l = Math.log10(v), r = Math.round(l); if (Math.abs(l-r) > 1e-3) return ''; return r < 0 ? '1e-' + pad2(-r) : '1e+' + pad2(r); };
const plainLogFmt = v => { const l = Math.log10(v), r = Math.round(l); if (Math.abs(l-r) > 1e-3) return ''; return String(Math.round(v)); };
const listFmt = list => v => list.some(t => Math.abs(t - v) < 1e-6) ? String(v) : '';

function axisBase(gi, extra) {
  return Object.assign({
    gridIndex: gi, axisLine: {show: false, onZero: false},
    axisTick: {show: true, length: 3, lineStyle: {color: '#444', width: 0.8}},
    splitLine: {show: true, lineStyle: {color: GRIDC, width: 0.8}},
    axisLabel: {color: '#333', fontFamily: FONT, fontSize: 9, margin: 4},
    nameLocation: 'middle', nameTextStyle: {color: '#111', fontFamily: FONT, fontSize: 11}
  }, extra);
}
const frame = {show: true, borderColor: '#bdbdbd', borderWidth: 1, backgroundColor: 'transparent'};

// box-and-whisker drawn through the axes' scales (no whisker caps, like ggplot)
function boxSeries(xi, yi, data, halfW) {
  return {
    type: 'custom', xAxisIndex: xi, yAxisIndex: yi, clip: false, z: 3, silent: true,
    data: data.map((b, i) => [i].concat(b)),
    encode: {x: 0, y: [1, 2, 3, 4, 5]},
    renderItem: (params, api) => {
      const x = api.value(0);
      const pt = k => api.coord([x, api.value(k)]);
      const pMin = pt(1), pQ1 = pt(2), pMed = pt(3), pQ3 = pt(4), pMax = pt(5);
      const cx = pMed[0];
      const ls = {stroke: '#6e6e6e', lineWidth: 0.9};
      return {type: 'group', children: [
        {type: 'line', shape: {x1: cx, y1: pMax[1], x2: cx, y2: pQ3[1]}, style: ls},
        {type: 'line', shape: {x1: cx, y1: pQ1[1], x2: cx, y2: pMin[1]}, style: ls},
        {type: 'rect', shape: {x: cx - halfW, y: pQ3[1], width: 2 * halfW, height: pQ1[1] - pQ3[1]}, style: {fill: '#fff', stroke: '#6e6e6e', lineWidth: 0.9}},
        {type: 'line', shape: {x1: cx - halfW, y1: pMed[1], x2: cx + halfW, y2: pMed[1]}, style: {stroke: '#3a3a3a', lineWidth: 1.3}}
      ]};
    }
  };
}
function bracketSeries(xi, yi, pairs, label, base, step, tick, inset) {
  return {
    type: 'custom', xAxisIndex: xi, yAxisIndex: yi, clip: false, z: 6, silent: true,
    data: pairs.map(p => [p[0], p[1]]),
    encode: {x: 0, y: 1},
    renderItem: (params, api) => {
      const top = params.coordSys.y;
      const lvl = top - base - step * params.dataIndex;
      const x1 = api.coord([api.value(0), 1])[0] + inset;
      const x2 = api.coord([api.value(1), 1])[0] - inset;
      return {type: 'group', children: [
        {type: 'polyline', shape: {points: [[x1, lvl+tick],[x1, lvl],[x2, lvl],[x2, lvl+tick]]}, style: {stroke: '#111', fill: null, lineWidth: 1.1}},
        {type: 'text', style: {text: label, x: (x1+x2)/2, y: lvl - 1.5, align: 'center', verticalAlign: 'bottom', font: '7px ' + FONT, fill: '#111'}}
      ]};
    }
  };
}

const option = {
  animation: false,
  backgroundColor: '#fff',
  grid: [
    Object.assign({left: 29, top: 34, width: 273, height: 241}, frame),
    Object.assign({left: 363.7, top: 28.3, width: 254.3, height: 245.7}, frame),
    Object.assign({left: 30.7, top: 381.7, width: 269.3, height: 246.6}, frame),
    Object.assign({left: 363.7, top: 381.7, width: 260.5, height: 246.6}, frame),
    Object.assign({left: 216, top: 676, width: 262, height: 284}, frame)
  ],
  xAxis: [
    axisBase(0, {type: 'value', min: -0.6, max: 5.6, name: 'Gene Expression Values', nameGap: 21, nameTextStyle: {color: '#111', fontFamily: FONT, fontSize: 10.5},
      axisTick: {show: false},
      axisLabel: {formatter: catFmt(catsA), color: '#333', fontFamily: FONT, fontSize: 7.5, lineHeight: 9, margin: 3}}),
    axisBase(1, {type: 'value', min: -0.6, max: 4.6, name: 'Half-lives (hours)', nameGap: 13,
      axisTick: {show: false},
      axisLabel: {formatter: catFmt(catsB), color: '#333', fontFamily: FONT, fontSize: 7.5, margin: 4}}),
    axisBase(2, {type: 'value', min: -0.6, max: 4.6,
      axisTick: {show: false},
      axisLabel: {formatter: catFmt(catsC), color: '#333', fontFamily: FONT, fontSize: 7, lineHeight: 10, margin: 3}}),
    axisBase(3, {type: 'log', logBase: 10, min: 8630, max: 232800, name: 'H3K4me3 Intensities', nameGap: 14,
      axisLabel: {formatter: sciFmt, color: '#333', fontFamily: FONT, fontSize: 9.5, margin: 3}}),
    axisBase(4, {type: 'log', logBase: 10, min: 0.064, max: 1445, name: 'Gene Expression (RPKM)', nameGap: 17,
      axisTick: {show: true, length: 4, lineStyle: {color: '#444', width: 0.8}},
      axisLabel: {formatter: sciFmt, color: '#333', fontFamily: FONT, fontSize: 9, margin: 5}})
  ],
  yAxis: [
    axisBase(0, {type: 'value', min: -1.2, max: 25.6, name: 'Half-lives (Hours)', nameGap: 14,
      axisTick: {show: false},
      axisLabel: {formatter: listFmt(ticksA), color: '#333', fontFamily: FONT, fontSize: 9.5, margin: 3}}),
    axisBase(1, {type: 'log', logBase: 10, min: 63.7, max: 1507000, name: 'H3K4me3 Intensities', nameGap: 35,
      axisLabel: {formatter: sciFmt, color: '#333', fontFamily: FONT, fontSize: 9, margin: 4}}),
    axisBase(2, {type: 'value', min: -0.95, max: 25.17, name: 'Half-lives (hours)', nameGap: 15, nameTextStyle: {color: '#111', fontFamily: FONT, fontSize: 6},
      axisTick: {show: true, length: 3.5, lineStyle: {color: '#444', width: 0.8}},
      axisLabel: {formatter: listFmt([0,5,10,15,20,25]), color: '#333', fontFamily: FONT, fontSize: 5.5, margin: 5}}),
    axisBase(3, {type: 'log', logBase: 10, min: 7.98, max: 1270, name: 'Gene Expression Values', nameGap: 22,
      axisLabel: {formatter: plainLogFmt, color: '#333', fontFamily: FONT, fontSize: 9.5, margin: 3.5}}),
    axisBase(4, {type: 'log', logBase: 10, min: 60.3, max: 1610000, name: 'H3K4me3 Intensities', nameGap: 38,
      axisTick: {show: true, length: 4, lineStyle: {color: '#444', width: 0.8}},
      axisLabel: {formatter: sciFmt, color: '#333', fontFamily: FONT, fontSize: 9, margin: 7.5}})
  ],
  legend: {
    orient: 'vertical', left: 219, top: 681, padding: 0, itemGap: 1.5, itemWidth: 7, itemHeight: 7, icon: 'circle',
    textStyle: {fontSize: 11, color: '#222', fontFamily: FONT, padding: [0,0,0,-1]},
    data: [{name: eNames[0], itemStyle: {color: '#c8162a', opacity: 1}}, {name: eNames[1], itemStyle: {color: '#fdbb4a', opacity: 1}}]
  },
  graphic: [
    {type: 'text', x: -1, y: 8, style: {text: 'a', font: '26px ' + FONT, fill: '#000', verticalAlign: 'middle'}},
    {type: 'text', x: 317, y: 16, style: {text: 'b', font: '26px ' + FONT, fill: '#000', verticalAlign: 'middle'}},
    {type: 'text', x: -1, y: 366, style: {text: 'c', font: '26px ' + FONT, fill: '#000', verticalAlign: 'middle'}},
    {type: 'text', x: 317, y: 366, style: {text: 'd', font: '26px ' + FONT, fill: '#000', verticalAlign: 'middle'}},
    {type: 'text', x: 170, y: 670, style: {text: 'e', font: '26px ' + FONT, fill: '#000', verticalAlign: 'middle'}}
  ],
  series: [
    // a
    boxSeries(0, 0, boxA, 16.5),
    {type: 'scatter', xAxisIndex: 0, yAxisIndex: 0, data: outA, symbolSize: 2.5, itemStyle: {color: '#111'}, silent: true, z: 4},
    bracketSeries(0, 0, sigA, sigALabel, 10, 0, 8, 3),
    // b
    boxSeries(1, 1, boxB, 19),
    {type: 'scatter', xAxisIndex: 1, yAxisIndex: 1, data: p10y(outBLog), symbolSize: 2.6, itemStyle: {color: '#111'}, silent: true, z: 4},
    // c
    boxSeries(2, 2, boxC, 19.75),
    {type: 'scatter', xAxisIndex: 2, yAxisIndex: 2, data: outC, symbolSize: 4, itemStyle: {color: '#111'}, silent: true, z: 4},
    bracketSeries(2, 2, sigC, sigCLabel, 15.7, 11.6, 7, 0),
    // d
    {type: 'scatter', xAxisIndex: 3, yAxisIndex: 3, data: p10(dGrayLog.concat(dGrayLog2)), symbolSize: 2.6, itemStyle: {color: '#c2c2c2'}, silent: true},
    {type: 'scatter', xAxisIndex: 3, yAxisIndex: 3, data: p10(dYellowLog.concat(dYellowLog2)), symbolSize: 2.6, itemStyle: {color: '#c9c914'}, silent: true},
    {type: 'scatter', xAxisIndex: 3, yAxisIndex: 3, data: p10(dRedLog), symbolSize: 2.6, itemStyle: {color: '#e8452c'}, silent: true},
    {type: 'line', xAxisIndex: 3, yAxisIndex: 3, data: dLine, symbol: 'none', lineStyle: {color: '#555', width: 1}, silent: true, z: 4},
    // e
    {type: 'scatter', name: eNames[1], xAxisIndex: 4, yAxisIndex: 4, data: p10(eLongLog.concat(eLongLog2)), symbolSize: 6, itemStyle: {color: 'rgba(253,187,74,0.5)'}, silent: true},
    {type: 'scatter', name: eNames[0], xAxisIndex: 4, yAxisIndex: 4, data: p10(eShortLog.concat(eShortLog2)), symbolSize: 6, itemStyle: {color: 'rgba(200,22,42,0.44)'}, silent: true,
      markLine: {silent: true, symbol: 'none', label: {show: false}, lineStyle: {color: '#222', width: 1, type: [1, 2]},
        data: [{xAxis: eRefX}, {yAxis: eRefY}]}}
  ]
};
const chart = echarts.init(document.getElementById('c'), null, {renderer: 'canvas'});
chart.setOption(option);
</script>
</body></html>
